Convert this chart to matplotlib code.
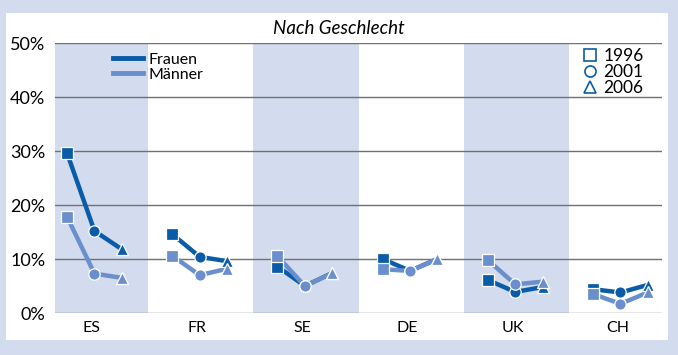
import matplotlib
matplotlib.use("Agg")
import matplotlib.pyplot as plt
from matplotlib.lines import Line2D
from matplotlib.patches import Rectangle
import numpy as np

plt.rcParams['font.family'] = ['Lato', 'DejaVu Sans']

countries = ["ES", "FR", "SE", "DE", "UK", "CH"]
years = ["1996", "2001", "2006"]
frauen = [[29.6, 15.2, 11.8], [14.6, 10.4, 9.6], [8.6, 5.0, 7.4],
          [10.0, 7.8, 10.0], [6.1, 3.9, 4.8], [4.4, 3.8, 5.2]]
maenner = [[17.8, 7.3, 6.5], [10.6, 7.0, 8.2], [10.5, 5.0, 7.4],
           [8.1, 7.8, 10.0], [9.8, 5.3, 5.8], [3.5, 1.7, 3.8]]
yticks = [0, 10, 20, 30, 40, 50]

dark = "#0a5ca8"
light = "#6a8fcc"
band = "#d3dcee"
markers = ["s", "o", "^"]
offsets = [-0.27, -0.01, 0.25]

fig = plt.figure(figsize=(6.78, 3.55), dpi=100)
fig.patch.set_facecolor(band)
fig.patches.append(Rectangle((6/678, 1-340/355), 662/678, 327/355,
                             transform=fig.transFigure, facecolor="white",
                             edgecolor="none", zorder=-5))
ax = fig.add_axes([55/678, 1-313/355, 607/678, 270/355])
ax.set_facecolor("none")
ax.set_xlim(-0.385, 5.385)
ax.set_ylim(0, 50)
for i in range(0, len(countries), 2):
    ax.axvspan(i-0.5, i+0.5, color=band, zorder=0, lw=0)
for y in yticks:
    ax.axhline(y, color="#707070" if y else "#808080", lw=1.0, zorder=1)
for s in ax.spines.values():
    s.set_visible(False)

for series, col in [(frauen, dark), (maenner, light)]:
    for i, vals in enumerate(series):
        xs = [i + o for o in offsets]
        ax.plot(xs, vals, color=col, lw=3.2, zorder=3, solid_capstyle="butt")
        for x, v, m in zip(xs, vals, markers):
            ms = 8.2 if m != "^" else 9.2
            ax.plot([x], [v], marker=m, ms=ms, color=col, mec="white",
                    mew=0.9, zorder=4, ls="none")

ax.set_xticks([i - 0.035 for i in range(len(countries))])
ax.set_xticklabels(countries, fontsize=11.5)
ax.set_yticks(yticks)
ax.set_yticklabels([f"{v}%" for v in yticks], fontsize=13)
ax.tick_params(length=0, pad=6)
ax.tick_params(axis="y", pad=7)

fig.text(339/678, 1-28/355, "Nach Geschlecht", ha="center", va="center",
         fontsize=13.5, style="italic")

h1 = [Line2D([], [], color=dark, lw=3.5), Line2D([], [], color=light, lw=3.5)]
leg1 = ax.legend(h1, ["Frauen", "Männer"], loc="upper left",
                 bbox_to_anchor=(48/607, 1.0), frameon=False, fontsize=11.5,
                 handlelength=1.9, handletextpad=0.35, labelspacing=0.05,
                 borderaxespad=0.2)
ax.add_artist(leg1)
h2 = [Line2D([], [], color=dark, marker=m, ls="none", mfc="none", mew=1.2,
             ms=8) for m in markers]
ax.legend(h2, years, loc="upper left", bbox_to_anchor=(519/607, 1.02),
          frameon=False, fontsize=12.5, handlelength=0.7, handletextpad=0.4,
          labelspacing=0.0, borderaxespad=0.2)

fig.savefig("out.png", dpi=100, facecolor=band)
